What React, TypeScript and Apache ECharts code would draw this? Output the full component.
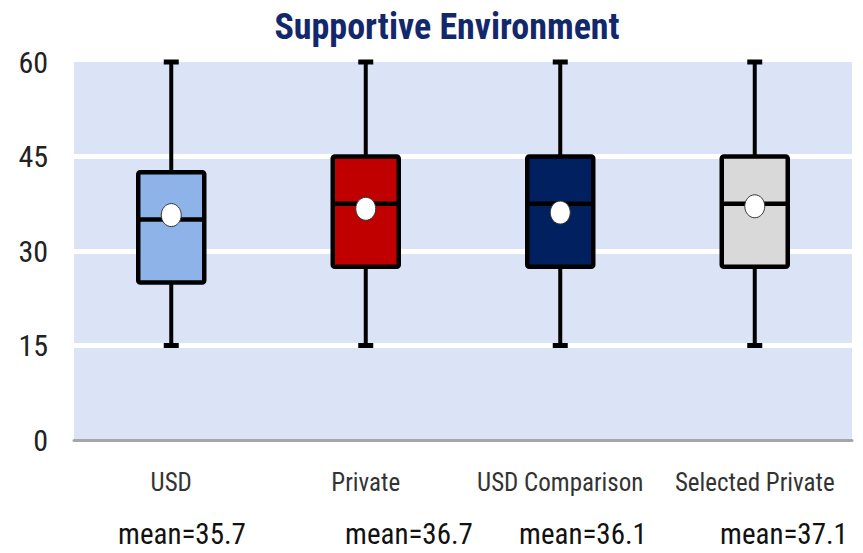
import React, { useEffect, useRef } from "react";
import * as echarts from "echarts";

const categories = ["USD", "Private", "USD Comparison", "Selected Private"];
const mins = [15, 15, 15, 15];
const q1s = [25, 27.5, 27.5, 27.5];
const medians = [35, 37.5, 37.5, 37.5];
const q3s = [42.5, 45, 45, 45];
const maxs = [60, 60, 60, 60];
const means = [35.7, 36.7, 36.1, 37.1];
const yTicks = [0, 15, 30, 45, 60];

const boxColors = ["#8db3e9", "#c00000", "#002060", "#d9d9d9"];
const meanLabelX = [182, 409, 583, 784];

const NARROW = "'Liberation Sans Narrow', 'Arial Narrow', 'Roboto Condensed', sans-serif";

export default function App() {
  const ref = useRef<HTMLDivElement>(null);
  useEffect(() => {
    if (!ref.current) return;
    const chart = echarts.init(ref.current, null, { renderer: "svg" });
    const data = categories.map((_, i) => [i, mins[i], q1s[i], medians[i], q3s[i], maxs[i], means[i]]);
    chart.setOption({
      animation: false,
      backgroundColor: "#ffffff",
      title: {
        text: "Supportive Environment",
        left: 442,
        top: 4,
        textAlign: "center",
        textStyle: { fontFamily: NARROW, fontWeight: "bold", fontSize: 36, color: "#13286b" },
      },
      grid: { left: 74, right: 11, top: 62, bottom: 113, backgroundColor: "#dae4f6", show: true, borderWidth: 0 },
      xAxis: {
        type: "category",
        data: categories,
        axisTick: { show: false },
        axisLine: { show: true, lineStyle: { color: "#a6a6a6", width: 3 } },
        axisLabel: { interval: 0, fontFamily: NARROW, fontSize: 25, color: "#333333", margin: 30 },
        splitLine: { show: false },
      },
      yAxis: {
        type: "value",
        min: yTicks[0],
        max: yTicks[yTicks.length - 1],
        interval: 15,
        axisLine: { show: false },
        axisTick: { show: false },
        axisLabel: { fontFamily: NARROW, fontSize: 30, color: "#222222", margin: 26 },
        splitLine: { show: true, showMinLine: false, showMaxLine: false, lineStyle: { color: "#ffffff", width: 5 } },
      },
      series: [
        {
          type: "custom",
          data,
          encode: { x: 0, y: [1, 2, 3, 4, 5, 6] },
          renderItem: (params: any, api: any) => {
            const i = api.value(0);
            const x = api.coord([i, 0])[0];
            const yMin = api.coord([i, api.value(1)])[1];
            const yQ1 = api.coord([i, api.value(2)])[1];
            const yMed = api.coord([i, api.value(3)])[1];
            const yQ3 = api.coord([i, api.value(4)])[1];
            const yMax = api.coord([i, api.value(5)])[1];
            const yMean = api.coord([i, api.value(6)])[1];
            const bw = 66;
            const cap = 15;
            const black = "#000000";
            const ls = { stroke: black, lineWidth: 4 };
            return {
              type: "group",
              children: [
                { type: "line", shape: { x1: x, y1: yMax, x2: x, y2: yQ3 }, style: ls },
                { type: "line", shape: { x1: x, y1: yQ1, x2: x, y2: yMin }, style: ls },
                { type: "line", shape: { x1: x - cap / 2, y1: yMax, x2: x + cap / 2, y2: yMax }, style: { stroke: black, lineWidth: 5 } },
                { type: "line", shape: { x1: x - cap / 2, y1: yMin, x2: x + cap / 2, y2: yMin }, style: { stroke: black, lineWidth: 5 } },
                {
                  type: "rect",
                  shape: { x: x - bw / 2, y: yQ3, width: bw, height: yQ1 - yQ3, r: 2 },
                  style: { fill: boxColors[params.dataIndex], stroke: black, lineWidth: 4.5 },
                },
                { type: "line", shape: { x1: x - bw / 2, y1: yMed, x2: x + bw / 2, y2: yMed }, style: { stroke: black, lineWidth: 4.5 } },
                {
                  type: "ellipse",
                  shape: { cx: x, cy: yMean, rx: 10, ry: 11.5 },
                  style: { fill: "#ffffff", stroke: "#333333", lineWidth: 1 },
                },
              ],
            };
          },
        },
      ],
      graphic: means.map((m, i) => ({
        type: "text",
        x: meanLabelX[i],
        y: 534,
        style: {
          text: "mean=" + m.toFixed(1),
          fontFamily: NARROW,
          fontSize: 29,
          fill: "#111111",
          textAlign: "center",
          textVerticalAlign: "middle",
        },
      })),
    });
    return () => chart.dispose();
  }, []);
  return <div ref={ref} style={{ position: "fixed", left: 0, top: 0, width: 863, height: 553 }} />;
}
